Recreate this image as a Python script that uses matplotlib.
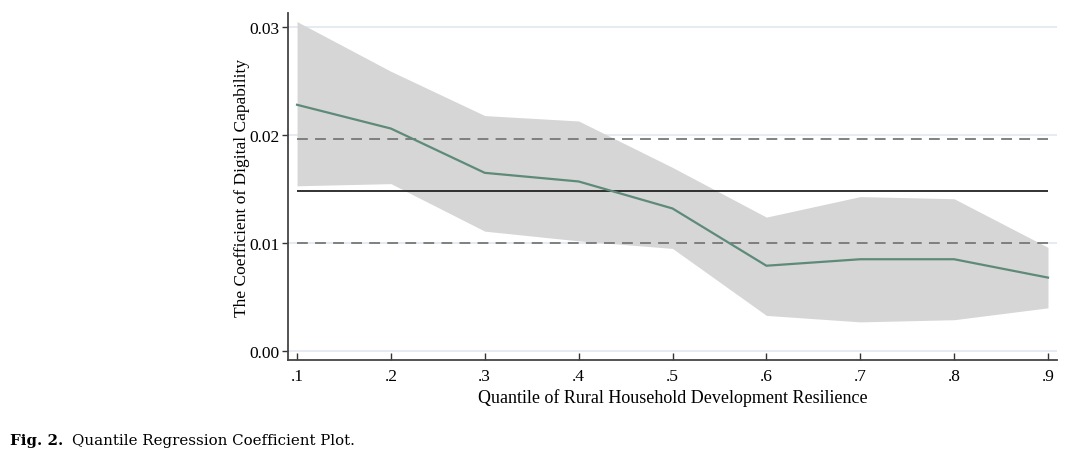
import matplotlib
matplotlib.use("Agg")
import matplotlib.pyplot as plt
import numpy as np

quantiles = [0.1, 0.2, 0.3, 0.4, 0.5, 0.6, 0.7, 0.8, 0.9]
coef = [0.0228, 0.0206, 0.0165, 0.0157, 0.0132, 0.0079, 0.0085, 0.0085, 0.0068]
upper = [0.0305, 0.0259, 0.0218, 0.0213, 0.0170, 0.0124, 0.0143, 0.0141, 0.0096]
lower = [0.0153, 0.0155, 0.0111, 0.0102, 0.0095, 0.0033, 0.0027, 0.0029, 0.0040]
ols_coef = 0.0148
ols_ci = [0.0100, 0.0196]
tick_labels = [".1", ".2", ".3", ".4", ".5", ".6", ".7", ".8", ".9"]

serif = ["Liberation Serif", "DejaVu Serif"]

fig = plt.figure(figsize=(10.8, 4.6), dpi=100)
ax = fig.add_axes([0.2667, 0.2152, 0.712, 0.7544])

for yv in [0.0, 0.01, 0.02, 0.03]:
    ax.axhline(yv, color="#e4e9f2", lw=1.3, zorder=0)

ax.fill_between(quantiles, lower, upper, color="#d6d6d6", lw=0, zorder=1)
ax.plot(quantiles, coef, color="#5e8a78", lw=1.6, zorder=3)

ax.hlines(ols_coef, quantiles[0], quantiles[-1], color="#222222", lw=1.3, zorder=2)
for yv in ols_ci:
    ax.hlines(yv, quantiles[0], quantiles[-1], color="#777777", lw=1.3,
              linestyles=(0, (6, 4)), zorder=2)

ax.set_xlim(0.0904, 0.9096)
ax.set_ylim(-0.00083, 0.0313)
ax.set_xticks(quantiles)
ax.set_xticklabels(tick_labels, fontfamily=serif, fontsize=12.5)
ax.set_yticks([0.0, 0.01, 0.02, 0.03])
ax.set_yticklabels(["0.00", "0.01", "0.02", "0.03"], fontfamily=serif, fontsize=12.5)
ax.tick_params(axis="x", direction="in", length=5, width=1, color="#333333", pad=6)
ax.tick_params(axis="y", direction="out", length=4, width=1, color="#333333", pad=2)

for s in ["top", "right"]:
    ax.spines[s].set_visible(False)
for s in ["left", "bottom"]:
    ax.spines[s].set_color("#444444")
    ax.spines[s].set_linewidth(1.3)

ax.set_xlabel("Quantile of Rural Household Development Resilience",
              fontfamily=serif, fontsize=13, labelpad=3)
ax.set_ylabel("The Coefficient of Digital Capability",
              fontfamily=serif, fontsize=12.5)
ax.yaxis.set_label_coords(-0.05, 0.5)

fig.text(0.009, 0.033, "Fig. 2.", fontfamily="DejaVu Serif", fontsize=10.8,
         fontweight="bold", va="baseline")
fig.text(0.067, 0.033, "Quantile Regression Coefficient Plot.", fontfamily="DejaVu Serif",
         fontsize=10.8, va="baseline")

fig.savefig("out.png", dpi=100)
